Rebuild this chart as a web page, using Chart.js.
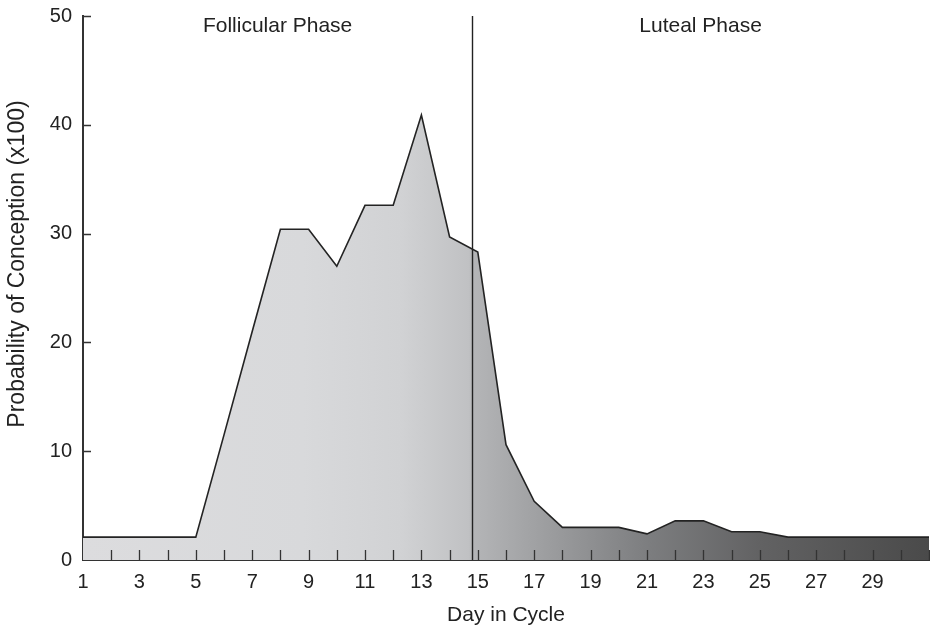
<!DOCTYPE html>
<html>
<head>
<meta charset="utf-8">
<title>Probability of Conception by Day in Cycle</title>
<script src="https://cdn.jsdelivr.net/npm/chart.js@4/dist/chart.umd.min.js"></script>
<style>
  html, body { margin: 0; padding: 0; background: #fff; }
  #wrap { width: 930px; height: 629px; }
</style>
</head>
<body>
<div id="wrap"><canvas id="chart" width="930" height="629"></canvas></div>
<script>
// values
const days = [1, 2, 3, 4, 5, 6, 7, 8, 9, 10, 11, 12, 13, 14, 15, 16,
              17, 18, 19, 20, 21, 22, 23, 24, 25, 26, 27, 28, 29, 30, 31];
const probability = [2.1, 2.1, 2.1, 2.1, 2.1, 11.5, 21.0, 30.4, 30.4, 27.0, 32.6, 32.6, 40.9, 29.7, 28.3, 10.6,
                     5.4, 3.0, 3.0, 3.0, 2.4, 3.6, 3.6, 2.6, 2.6, 2.1, 2.1, 2.1, 2.1, 2.1, 2.1];
const yTicks = [0, 10, 20, 30, 40, 50];
const phaseLabels = ['Follicular Phase', 'Luteal Phase'];
const phaseCenters = [7.9, 22.9];
const ovulationDay = 14.8;

const FONT = "'Liberation Sans', Arial, Helvetica, sans-serif";
const INK = '#222';

Chart.defaults.font.family = FONT;
Chart.defaults.color = INK;

// shaded fill that darkens towards the end of the cycle
function areaFill(context) {
    const area = context.chart.chartArea;
    if (!area) return '#d8d9dc';
    const g = context.chart.ctx.createLinearGradient(area.left, 0, area.right, 0);
    g.addColorStop(0, '#dcdcde');
    g.addColorStop(0.26, '#d8d9db');
    g.addColorStop(0.375, '#d1d2d4');
    g.addColorStop(0.456, '#c0c1c3');
    g.addColorStop(0.462, '#b4b5b7');
    g.addColorStop(0.565, '#98999b');
    g.addColorStop(0.67, '#7c7d7f');
    g.addColorStop(0.8, '#626263');
    g.addColorStop(1, '#4a4a4a');
    return g;
}

// inner tick marks, ovulation line, phase names and y title
const decorations = {
    id: 'decorations',
    afterDatasetsDraw(chart) {
        const { ctx, chartArea, scales } = chart;
        const x = scales.x, y = scales.y;
        ctx.save();
        ctx.strokeStyle = '#333';
        ctx.lineWidth = 1.3;
        ctx.beginPath();
        days.forEach(d => {
            if (d === days[0]) return;
            const px = Math.round(x.getPixelForValue(d)) + 0.5;
            ctx.moveTo(px, chartArea.bottom);
            ctx.lineTo(px, chartArea.bottom - 10);
        });
        yTicks.forEach(v => {
            if (v === 0) return;
            const py = Math.round(y.getPixelForValue(v)) + 0.5;
            ctx.moveTo(chartArea.left, py);
            ctx.lineTo(chartArea.left + 8, py);
        });
        ctx.stroke();

        const lx = Math.round(x.getPixelForValue(ovulationDay)) + 0.5;
        ctx.strokeStyle = INK;
        ctx.lineWidth = 1.4;
        ctx.beginPath();
        ctx.moveTo(lx, chartArea.top);
        ctx.lineTo(lx, chartArea.bottom);
        ctx.stroke();

        ctx.fillStyle = INK;
        ctx.font = '21px ' + FONT;
        ctx.textAlign = 'center';
        ctx.textBaseline = 'alphabetic';
        phaseLabels.forEach((label, i) => {
            ctx.fillText(label, x.getPixelForValue(phaseCenters[i]), chartArea.top + 16);
        });

        ctx.font = '23px ' + FONT;
        ctx.textBaseline = 'middle';
        ctx.translate(17.5, 264);
        ctx.rotate(-Math.PI / 2);
        ctx.fillText('Probability of Conception (x100)', 0, 0);
        ctx.restore();
    }
};

const chart = new Chart(document.getElementById('chart'), {
    type: 'line',
    data: {
        labels: days,
        datasets: [{
            label: 'Probability of Conception',
            data: days.map((d, i) => ({ x: d, y: probability[i] })),
            borderColor: '#232323',
            borderWidth: 1.6,
            backgroundColor: areaFill,
            fill: 'origin',
            pointRadius: 0,
            tension: 0
        }]
    },
    options: {
        responsive: false,
        devicePixelRatio: 1,
        animation: false,
        layout: { padding: { top: 16, right: 1, left: 0, bottom: 0 } },
        plugins: {
            legend: { display: false },
            tooltip: { enabled: false }
        },
        scales: {
            x: {
                type: 'linear',
                min: 1,
                max: 31,
                grid: { display: false, drawTicks: false },
                border: { display: true, color: '#333', width: 2 },
                ticks: {
                    stepSize: 1,
                    autoSkip: false,
                    maxRotation: 0,
                    padding: 10,
                    font: { size: 20 },
                    color: INK,
                    callback: v => (v % 2 === 1 && v <= 29) ? String(v) : ''
                },
                title: {
                    display: true,
                    text: 'Day in Cycle',
                    font: { size: 21 },
                    color: INK,
                    padding: { top: 0, bottom: 1.4 }
                },
                afterFit: s => {
                    s.height = 69;
                    s.paddingLeft = 0;
                    s.paddingRight = 0;
                }
            },
            y: {
                min: 0,
                max: 50,
                grid: { display: false, drawTicks: false },
                border: { display: true, color: '#333', width: 2 },
                ticks: {
                    stepSize: 10,
                    padding: 11,
                    font: { size: 20 },
                    color: INK
                },
                afterFit: s => {
                    s.width = 83;
                    s.paddingTop = 0;
                    s.paddingBottom = 0;
                }
            }
        }
    },
    plugins: [decorations]
});
</script>
</body>
</html>
